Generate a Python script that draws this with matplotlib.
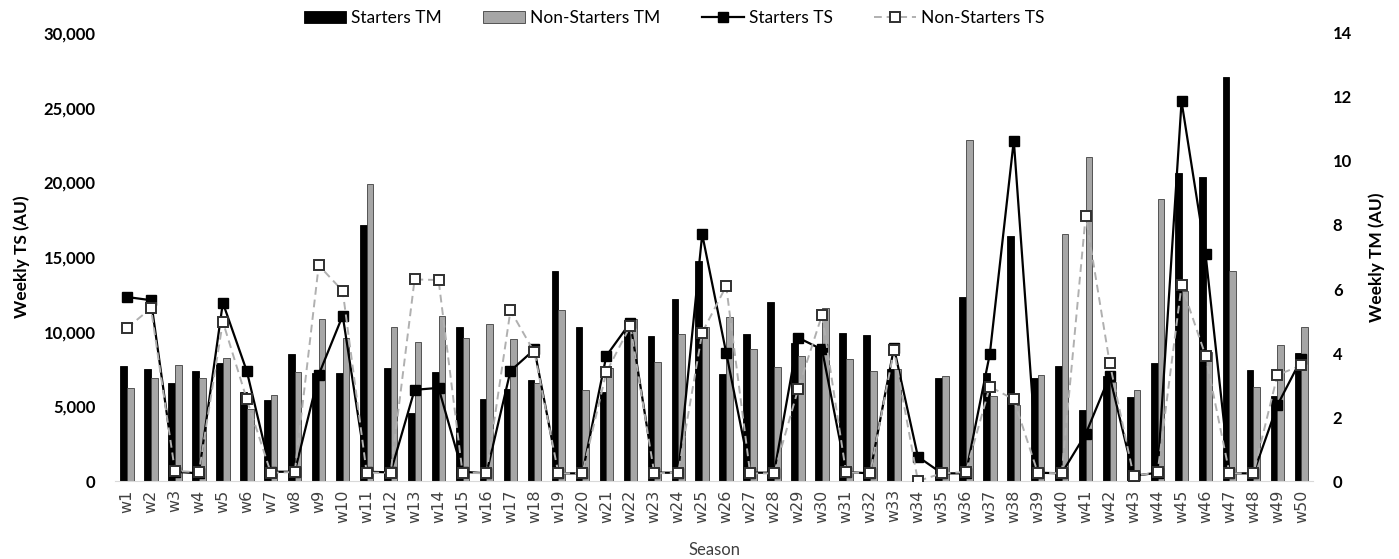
import numpy as np
import matplotlib
matplotlib.use("Agg")
import matplotlib.pyplot as plt
from matplotlib.ticker import FuncFormatter

# données
semaines = ["w%d" % i for i in range(1, 51)]

starters_tm = [7700, 7470, 6580, 7360, 7920, 5960, 5420, 8480, 7200, 7250,
               17110, 7540, 4530, 7270, 10280, 5470, 6180, 6760, 14030, 10310,
               5980, 10700, 9700, 12200, 14700, 7180, 9840, 12000, 9220, 8950,
               9930, 9770, 7470, 0, 6910, 12340, 7200, 16400, 6910, 7700,
               4750, 7000, 5640, 7880, 20640, 20370, 27060, 7430, 5690, 8550]

non_starters_tm = [6200, 6870, 7740, 6870, 8260, 4800, 5760, 7270, 10820, 9550,
                   19880, 10330, 9330, 11040, 9550, 10530, 9480, 6540, 11470, 6070,
                   7540, 10850, 7990, 9820, 10280, 10950, 8840, 7610, 8390, 11580,
                   8190, 7340, 7520, 0, 7030, 22820, 5690, 5070, 7070, 16550,
                   21710, 6650, 6070, 18860, 12700, 8660, 14080, 6270, 9080, 10330]

starters_ts = [5.75, 5.65, 0.29, 0.24, 5.57, 3.43, 0.29, 0.29, 3.32, 5.17,
               0.29, 0.27, 2.85, 2.91, 0.29, 0.24, 3.44, 4.11, 0.24, 0.24,
               3.91, 4.95, 0.26, 0.26, 7.71, 4.01, 0.26, 0.26, 4.48, 4.11,
               0.28, 0.24, 4.16, 0.76, 0.24, 0.24, 3.97, 10.64, 0.26, 0.24,
               1.47, 3.28, 0.16, 0.26, 11.86, 7.10, 0.24, 0.24, 2.37, 3.82]

non_starters_ts = [4.78, 5.40, 0.32, 0.27, 4.98, 2.55, 0.26, 0.28, 6.74, 5.94,
                   0.26, 0.26, 6.30, 6.28, 0.26, 0.24, 5.33, 4.02, 0.24, 0.24,
                   3.40, 4.85, 0.24, 0.26, 4.64, 6.09, 0.24, 0.24, 2.87, 5.19,
                   0.27, 0.24, 4.09, 0.0, 0.24, 0.28, 2.95, 2.55, 0.26, 0.24,
                   8.29, 3.69, 0.16, 0.27, 6.12, 3.92, 0.24, 0.24, 3.31, 3.62]

x = np.arange(len(semaines))
largeur = 0.28

fig = plt.figure(figsize=(13.99, 5.59), dpi=100)
ax = fig.add_axes([0.0822, 0.1395, 0.8566, 0.8015])

ax.bar(x - largeur / 2, starters_tm, largeur, color="black", edgecolor="black",
       linewidth=0.6, label="Starters TM", zorder=2)
ax.bar(x + largeur / 2, non_starters_tm, largeur, color="#a6a6a6", edgecolor="#404040",
       linewidth=0.6, label="Non-Starters TM", zorder=2)

ax.set_xlim(-0.5, len(semaines) - 0.5)
ax.set_ylim(0, 30000)
ax.set_yticks(range(0, 30001, 5000))
ax.yaxis.set_major_formatter(FuncFormatter(lambda v, p: "{:,.0f}".format(v)))
ax.set_xticks(x)
ax.set_xticklabels(semaines, rotation=90, fontsize=11.5, color="#404040")
ax.tick_params(axis="x", length=0, pad=6)
ax.tick_params(axis="y", length=0, pad=14)
for t in ax.get_yticklabels():
    t.set_fontweight("bold")
    t.set_fontsize(12)
    t.set_family("Lato")

for s in ["top", "left", "right"]:
    ax.spines[s].set_visible(False)
ax.spines["bottom"].set_color("#d9d9d9")

ax.set_ylabel("Weekly TS (AU)", fontsize=12.5, fontweight="bold", family="Lato", labelpad=10)
ax.set_xlabel("Season", fontsize=12, family="Lato", color="#404040", labelpad=14)

ax2 = ax.twinx()
ax2.plot(x, starters_ts, color="black", linewidth=1.6, marker="s", markersize=7,
         markerfacecolor="black", markeredgecolor="black", label="Starters TS", zorder=3)
ax2.plot(x, non_starters_ts, color="#b0b0b0", linewidth=1.4, linestyle=(0, (4, 2.5)),
         marker="s", markersize=6.5, markerfacecolor="white", markeredgecolor="#303030",
         markeredgewidth=1.4, label="Non-Starters TS", zorder=4)
ax2.set_ylim(0, 14)
ax2.set_yticks(range(0, 15, 2))
ax2.tick_params(axis="y", length=0, pad=14)
for t in ax2.get_yticklabels():
    t.set_fontweight("bold")
    t.set_fontsize(12)
    t.set_family("Lato")
for s in ["top", "left", "right", "bottom"]:
    ax2.spines[s].set_visible(False)
ax2.set_ylabel("Weekly TM (AU)", fontsize=12.5, fontweight="bold", family="Lato", labelpad=12)

h1, l1 = ax.get_legend_handles_labels()
h2, l2 = ax2.get_legend_handles_labels()
fig.legend(h1 + h2, l1 + l2, loc="upper center", bbox_to_anchor=(0.482, 1.01), ncol=4,
           frameon=False, prop={"family": "Lato", "size": 12.5}, columnspacing=2.4,
           handlelength=2.4, handletextpad=0.3)

fig.savefig("out.png", dpi=100)
